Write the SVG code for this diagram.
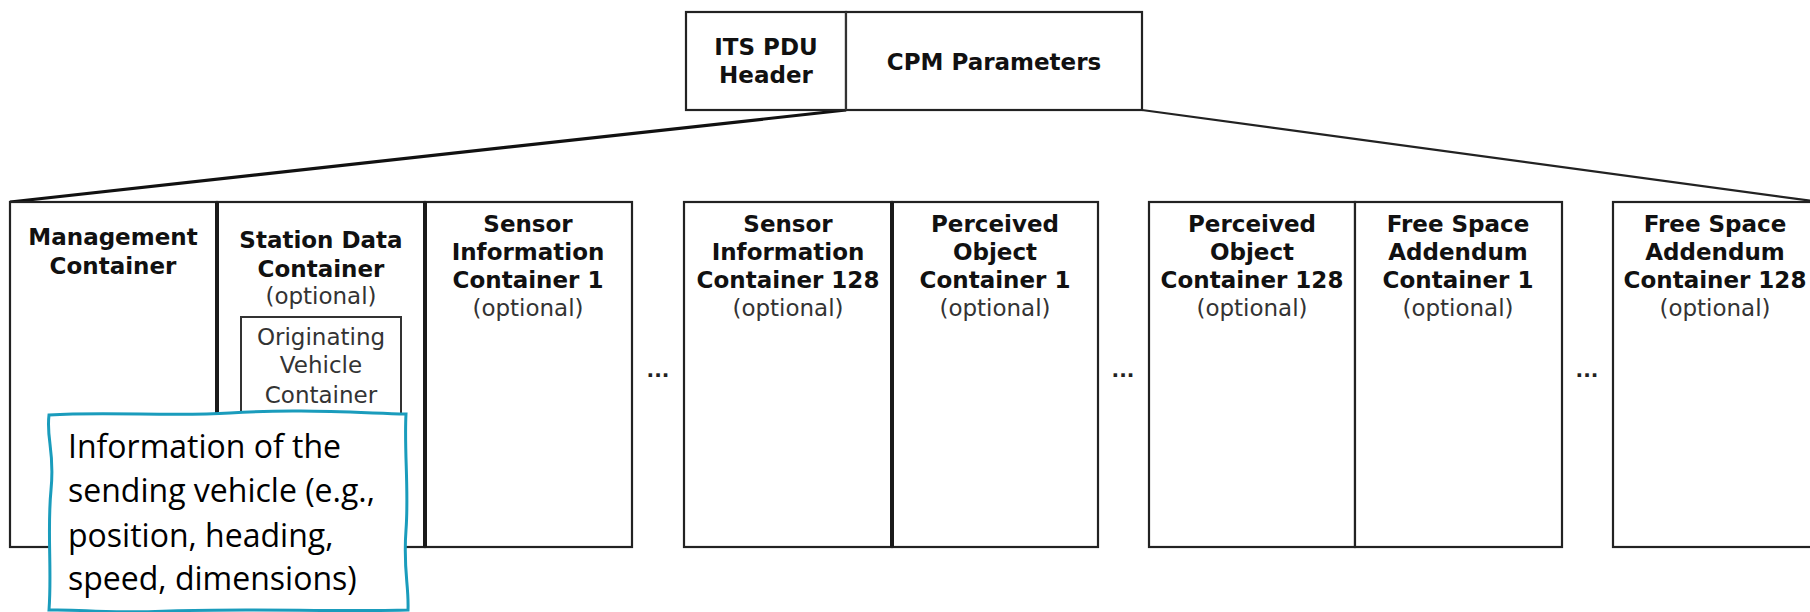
<svg xmlns="http://www.w3.org/2000/svg" width="1810" height="612" viewBox="0 0 1810 612">
<style>
.box{fill:#fff;stroke:#222;stroke-width:2.2}
.thick{stroke:#1a1a1a;stroke-width:4}
.thin{stroke:#333;stroke-width:2}
.lbl{font-family:"DejaVu Sans",Verdana,sans-serif;font-weight:bold;font-size:23px;fill:#111;text-anchor:middle}
.opt{font-family:"DejaVu Sans",Verdana,sans-serif;font-size:23px;fill:#333;text-anchor:middle}
.dots{font-family:"DejaVu Sans",Verdana,sans-serif;font-weight:bold;font-size:20px;fill:#222;text-anchor:middle}
.note{font-family:"Open Sans","Liberation Sans",sans-serif;font-size:32px;fill:#000}
</style>
<rect width="1810" height="612" fill="#fff"/>

<g id="connectors">
<line x1="846" y1="110" x2="10" y2="202" stroke="#111" stroke-width="3.2"/>
<line x1="1142" y1="110" x2="1812" y2="201" stroke="#222" stroke-width="2.2"/>
</g>

<g id="its-pdu-header">
<rect class="box" x="686" y="12" width="160" height="98"/>
<text class="lbl" x="766" y="55">ITS PDU</text>
<text class="lbl" x="766" y="83">Header</text>
</g>
<g id="cpm-parameters">
<rect class="box" x="846" y="12" width="296" height="98"/>
<line class="thin" x1="846" y1="12" x2="846" y2="110" stroke-width="3"/>
<text class="lbl" x="994" y="70">CPM Parameters</text>
</g>

<g id="management-container">
<rect class="box" x="10" y="202" width="207" height="345"/>
<text class="lbl" x="113" y="245">Management</text>
<text class="lbl" x="113" y="274">Container</text>
</g>
<g id="station-data-container">
<rect class="box" x="217" y="202" width="208" height="345"/>
<text class="lbl" x="321" y="248">Station Data</text>
<text class="lbl" x="321" y="277">Container</text>
<text class="opt" x="321" y="304">(optional)</text>
<g id="originating-vehicle-container">
<rect x="241" y="317" width="160" height="200" fill="#fff" stroke="#333" stroke-width="2"/>
<text class="opt" x="321" y="345" fill="#333">Originating</text>
<text class="opt" x="321" y="373">Vehicle</text>
<text class="opt" x="321" y="403">Container</text>
</g>
</g>
<g id="sensor-info-1">
<rect class="box" x="425" y="202" width="207" height="345"/>
<text class="lbl" x="528" y="232">Sensor</text>
<text class="lbl" x="528" y="260">Information</text>
<text class="lbl" x="528" y="288">Container 1</text>
<text class="opt" x="528" y="316">(optional)</text>
</g>
<line class="thick" x1="217" y1="202" x2="217" y2="547" stroke-width="3.5"/>
<line class="thick" x1="425" y1="202" x2="425" y2="547"/>

<text class="dots" x="658" y="377">...</text>

<g id="sensor-info-128">
<rect class="box" x="684" y="202" width="208" height="345"/>
<text class="lbl" x="788" y="232">Sensor</text>
<text class="lbl" x="788" y="260">Information</text>
<text class="lbl" x="788" y="288">Container 128</text>
<text class="opt" x="788" y="316">(optional)</text>
</g>
<g id="perceived-object-1">
<rect class="box" x="892" y="202" width="206" height="345"/>
<text class="lbl" x="995" y="232">Perceived</text>
<text class="lbl" x="995" y="260">Object</text>
<text class="lbl" x="995" y="288">Container 1</text>
<text class="opt" x="995" y="316">(optional)</text>
</g>
<line class="thick" x1="892" y1="202" x2="892" y2="547"/>

<text class="dots" x="1123" y="377">...</text>

<g id="perceived-object-128">
<rect class="box" x="1149" y="202" width="206" height="345"/>
<text class="lbl" x="1252" y="232">Perceived</text>
<text class="lbl" x="1252" y="260">Object</text>
<text class="lbl" x="1252" y="288">Container 128</text>
<text class="opt" x="1252" y="316">(optional)</text>
</g>
<g id="free-space-1">
<rect class="box" x="1355" y="202" width="207" height="345"/>
<text class="lbl" x="1458" y="232">Free Space</text>
<text class="lbl" x="1458" y="260">Addendum</text>
<text class="lbl" x="1458" y="288">Container 1</text>
<text class="opt" x="1458" y="316">(optional)</text>
</g>

<text class="dots" x="1587" y="377">...</text>

<g id="free-space-128">
<rect class="box" x="1613" y="202" width="210" height="345"/>
<text class="lbl" x="1715" y="232">Free Space</text>
<text class="lbl" x="1715" y="260">Addendum</text>
<text class="lbl" x="1715" y="288">Container 128</text>
<text class="opt" x="1715" y="316">(optional)</text>
</g>

<g id="callout">
<path d="M49 415 C 110 411, 170 417, 230 413 S 340 412, 406 414 C 404 450, 409 490, 406 530 S 409 585, 408 610 C 330 612, 250 608, 170 611 S 90 609, 49 610 C 52 570, 47 530, 51 490 S 46 440, 49 415 Z" fill="#fff" stroke="#1a9cbc" stroke-width="3"/>
<text class="note" x="68" y="458">Information of the</text>
<text class="note" x="68" y="502">sending vehicle (e.g.,</text>
<text class="note" x="68" y="547">position, heading,</text>
<text class="note" x="68" y="590">speed, dimensions)</text>
</g>
</svg>
